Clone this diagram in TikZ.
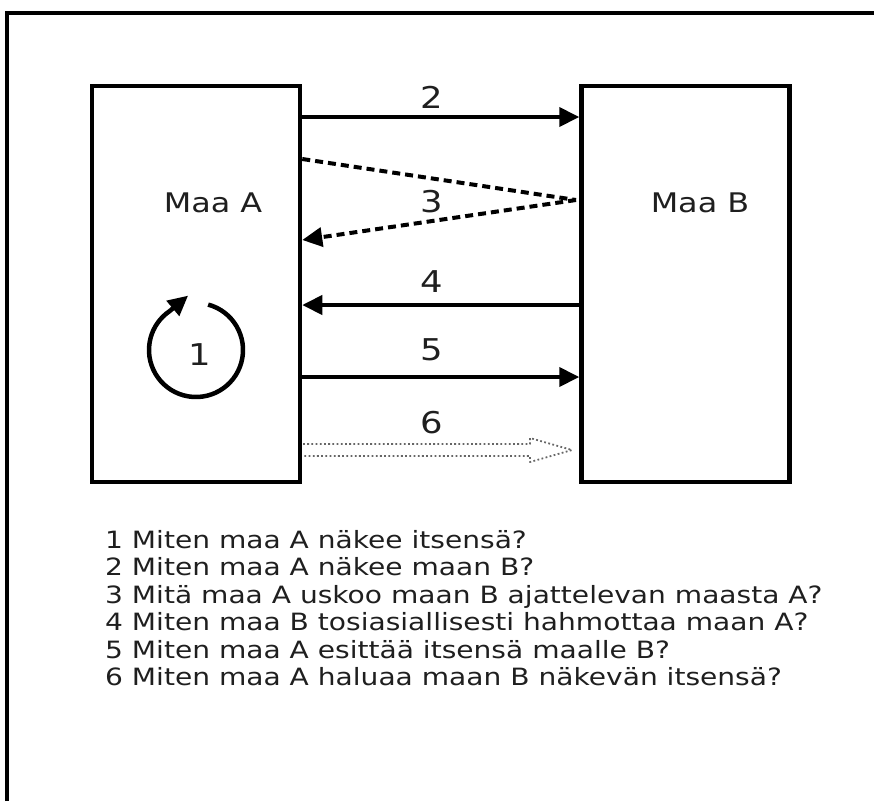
\documentclass[tikz,border=0pt]{standalone}
\usepackage{fontspec}
\setmainfont{DejaVu Sans}[FakeStretch=1.18]
\usetikzlibrary{arrows.meta}
\begin{document}
\begin{tikzpicture}[x=1pt,y=-1pt,
  country/.style={draw, line width=4.5pt, minimum width=208pt, minimum height=396pt, inner sep=0pt},
  big/.style={font=\fontsize{27}{32}\selectfont, inner sep=0pt, text=black!88},
  num/.style={font=\fontsize{30}{34}\selectfont, inner sep=0pt, text=black!88},
  listline/.style={font=\fontsize{23.8}{27.5}\selectfont, anchor=base west, inner sep=0pt, text=black!88},
  solidarrow/.style={line width=4pt, -{Triangle[length=20pt,width=19pt]}},
  dasharrow/.style={line width=4pt, dash pattern=on 8pt off 5pt},
  hollowdots/.style={line width=1.8pt, draw=black!60, dash pattern=on 1.8pt off 2.4pt, line join=round}
]
\useasboundingbox (0,0) rectangle (874,801);
\draw[line width=4.5pt] (7,801) -- (7,13) -- (874,13);

\node[country] (A) at (196,284) {};
\node[country] (B) at (685.5,284) {};
\node[big] (ta) at (213,203) {Maa A};
\node[big] (tb) at (700,203) {Maa B};

% 2
\coordinate (a2) at (A.east |- 0,117);
\coordinate (b2) at (B.west |- 0,117);
\draw[solidarrow] (a2) -- (b2);
\node[num] (n2) at (432,97) {2};

% 3
\coordinate (a3t) at (A.east |- 0,159);
\coordinate (b3) at (576,200);
\coordinate (a3b) at (A.east |- 0,240);
\draw[dasharrow] (a3t) -- (b3);
\draw[dasharrow, -{Triangle[length=20pt,width=19pt]}] (b3) -- (a3b);
\node[num] (n3) at (432,202) {3};

% 4
\coordinate (a4) at (A.east |- 0,305);
\coordinate (b4) at (B.west |- 0,305);
\draw[solidarrow] (b4) -- (a4);
\node[num] (n4) at (432,282) {4};

% 5
\coordinate (a5) at (A.east |- 0,377);
\coordinate (b5) at (B.west |- 0,377);
\draw[solidarrow] (a5) -- (b5);
\node[num] (n5) at (432,350) {5};

% 6
\coordinate (a6t) at (303,444);
\coordinate (a6b) at (303,456);
\coordinate (tip6) at (572,450);
\draw[hollowdots] (a6t) -- (530,444) -- (530,438) -- (tip6) -- (530,462) -- (530,456) -- (a6b);
\node[num] (n6) at (432,423) {6};

% 1
\coordinate (c1) at (196,350);
\draw[line width=4.5pt, -{Triangle[length=20pt,width=19pt]}] (c1) ++(-75:47) arc (-75:236:47) -- ++(-40:24);
\node[num] (n1) at (200,355) {1};

% list
\node[listline] (l1) at (105,548) {1 Miten maa A näkee itsensä?};
\node[listline] (l2) at (105,575.5) {2 Miten maa A näkee maan B?};
\node[listline] (l3) at (105,603) {3 Mitä maa A uskoo maan B ajattelevan maasta A?};
\node[listline] (l4) at (105,630.5) {4 Miten maa B tosiasiallisesti hahmottaa maan A?};
\node[listline] (l5) at (105,658) {5 Miten maa A esittää itsensä maalle B?};
\node[listline] (l6) at (105,685.5) {6 Miten maa A haluaa maan B näkevän itsensä?};
\end{tikzpicture}
\end{document}
